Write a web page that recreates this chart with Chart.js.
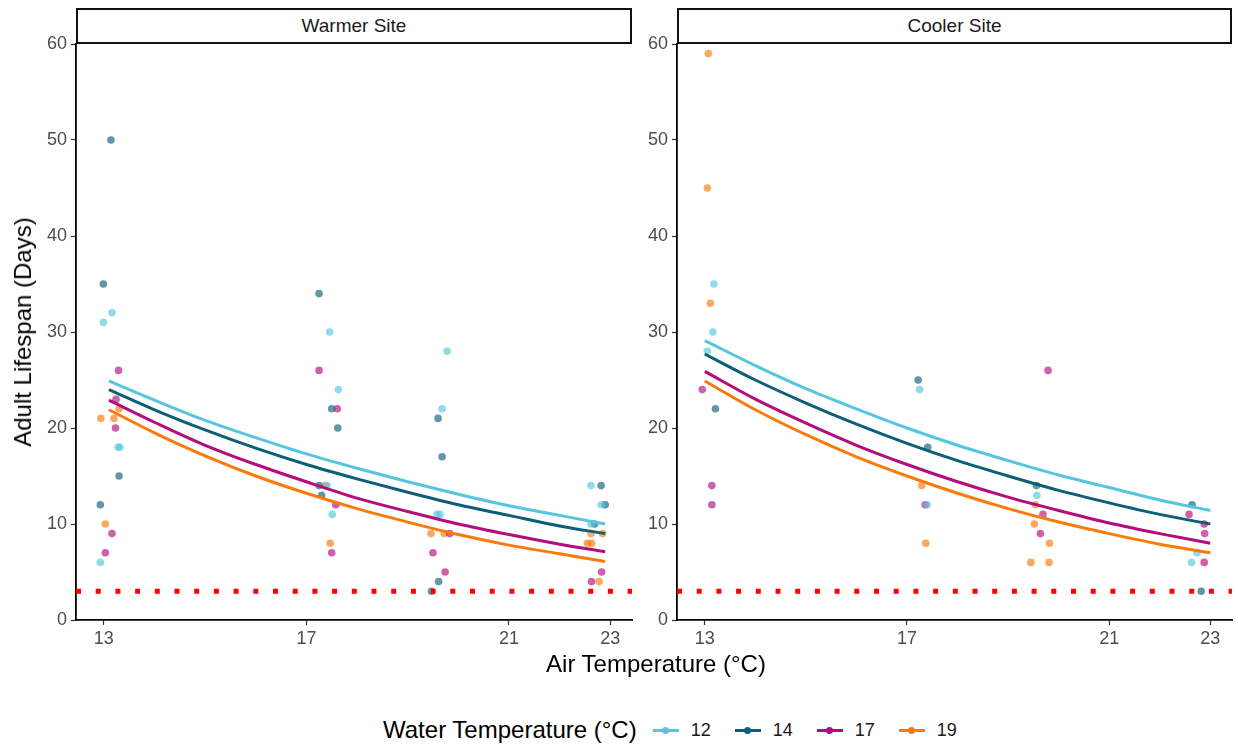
<!DOCTYPE html>
<html>
<head>
<meta charset="utf-8">
<script src="https://cdn.jsdelivr.net/npm/chart.js@4.4.1/dist/chart.umd.min.js"></script>
<style>
body { margin: 0; background: #fff; font-family: "Liberation Sans", Arial, sans-serif; }
#wrap { position: relative; width: 1238px; height: 747px; overflow: hidden; background: #fff; }
canvas { position: absolute; top: 0; }
.strip { position: absolute; top: 8px; height: 36px; box-sizing: border-box; border: 2px solid #111;
  display: flex; align-items: center; justify-content: center; font-size: 19px; color: #1a1a1a; background: #fff; }
.ytitle { position: absolute; left: 23px; top: 332px; transform: translate(-50%, -50%) rotate(-90deg);
  font-size: 24px; white-space: nowrap; color: #000; }
.xtitle { position: absolute; left: 656px; top: 664px; transform: translate(-50%, -50%); font-size: 24px; color: #000; white-space: nowrap; }
#legend { position: absolute; left: 383px; top: 716px; height: 28px; display: flex; align-items: center; font-size: 18px; color: #1a1a1a; }
#legend .ttl { font-size: 24px; color: #000; margin-right: 16px; }
#legend .key { position: relative; width: 26px; height: 12px; margin-right: 12px; }
#legend .key .ln { position: absolute; left: 0; right: 0; top: 4.5px; height: 3px; }
#legend .key .pt { position: absolute; left: 9px; top: 2.5px; width: 7px; height: 7px; border-radius: 50%; }
#legend .lab { margin-right: 24px; }
</style>
</head>
<body>
<div id="wrap">
  <canvas id="warm" width="640" height="660" style="left:0"></canvas>
  <canvas id="cool" width="598" height="660" style="left:640px"></canvas>
  <div class="strip" style="left:76px;width:556px">Warmer Site</div>
  <div class="strip" style="left:677px;width:555px">Cooler Site</div>
  <div class="ytitle">Adult Lifespan (Days)</div>
  <div class="xtitle">Air Temperature (°C)</div>
  <div id="legend"></div>
</div>
<script>
// water temperature groups and colours
var waterTemps = ['12', '14', '17', '19'];
var colors = ['#55C6DD', '#0D5F77', '#B30C7D', '#FA7A0A'];
var airTicks = [13, 17, 21, 23];
var threshold = 3;

// observed points [air temp (jittered), lifespan]
var warmer12 = [[12.99,31],[13.16,32],[13.28,18],[13.32,18],[12.93,6],[17.46,30],[17.63,24],[17.41,14],[17.51,11],
  [19.78,28],[19.68,22],[19.58,11],[19.64,11],[22.62,14],[22.82,12],[22.62,10]];
var warmer14 = [[13.14,50],[12.99,35],[13.3,15],[12.93,12],[17.25,34],[17.5,22],[17.62,20],[17.25,14],[17.3,13],
  [19.6,21],[19.68,17],[19.61,4],[19.47,3],[22.82,14],[22.9,12],[22.69,10]];
var warmer17 = [[13.29,26],[13.24,23],[13.23,20],[13.16,9],[13.03,7],[17.25,26],[17.61,22],[17.58,12],[17.5,7],
  [19.83,9],[19.5,7],[19.74,5],[22.83,5],[22.63,4]];
var warmer19 = [[13.3,22],[12.94,21],[13.2,21],[13.03,10],[17.37,14],[17.47,8],[19.46,9],[19.72,9],
  [22.62,9],[22.85,9],[22.55,8],[22.63,8],[22.78,4]];

var cooler12 = [[13.18,35],[13.16,30],[13.05,28],[17.25,24],[17.4,12],[19.57,13],[22.74,7],[22.63,6]];
var cooler14 = [[13.21,22],[17.22,25],[17.41,18],[19.56,14],[22.64,12],[22.82,3]];
var cooler17 = [[12.95,24],[13.14,14],[13.14,12],[17.36,12],[19.79,26],[19.69,11],[19.64,9],
  [22.58,11],[22.88,10],[22.89,9],[22.88,6]];
var cooler19 = [[13.07,59],[13.05,45],[13.11,33],[17.29,14],[17.37,8],[19.54,12],[19.52,10],[19.82,8],[19.45,6],[19.81,6]];

// fitted curves
var warmerFitTemps = [13.1, 14, 15, 16, 17, 18, 19, 20, 21, 22, 22.9];
var warmerFit12 = [24.9, 22.9, 20.8, 19.0, 17.3, 15.8, 14.4, 13.1, 11.9, 10.9, 10.0];
var warmerFit14 = [24.0, 21.9, 19.8, 17.9, 16.2, 14.7, 13.3, 12.0, 10.9, 9.8, 9.0];
var warmerFit17 = [22.9, 20.6, 18.2, 16.2, 14.4, 12.7, 11.3, 10.0, 8.9, 7.9, 7.1];
var warmerFit19 = [21.9, 19.5, 17.1, 15.0, 13.2, 11.6, 10.2, 8.9, 7.8, 6.9, 6.1];

var coolerFitTemps = [13, 14, 15, 16, 17, 18, 19, 20, 21, 22, 23];
var coolerFit12 = [29.1, 26.5, 24.1, 22.0, 20.0, 18.2, 16.6, 15.1, 13.8, 12.5, 11.4];
var coolerFit14 = [27.7, 25.0, 22.6, 20.4, 18.4, 16.6, 15.0, 13.5, 12.2, 11.0, 10.0];
var coolerFit17 = [25.9, 23.0, 20.5, 18.2, 16.2, 14.4, 12.8, 11.4, 10.1, 9.0, 8.0];
var coolerFit19 = [24.9, 21.9, 19.3, 17.0, 15.0, 13.2, 11.6, 10.2, 9.0, 7.9, 7.0];

var fam = '"Liberation Sans", Arial, sans-serif';
var xMin = 12.45, xMax = 23.43;

function alpha(hex, a) {
    var r = parseInt(hex.substr(1, 2), 16), g = parseInt(hex.substr(3, 2), 16), b = parseInt(hex.substr(5, 2), 16);
    return 'rgba(' + r + ',' + g + ',' + b + ',' + a + ')';
}

function makePanel(id, pts, fitTemps, fits, yWidth, padRight) {
    var datasets = [];
    for (var i = 0; i < fits.length; i++) {
        datasets.push({
            data: fitTemps.map(function (t, k) { return { x: t, y: fits[i][k] }; }),
            showLine: true, borderColor: colors[i], borderWidth: 3, pointRadius: 0,
            cubicInterpolationMode: 'monotone', order: 0
        });
    }
    datasets.push({
        data: [{ x: xMin, y: threshold }, { x: xMax, y: threshold }],
        showLine: true, borderColor: '#FF0000', borderWidth: 5, borderDash: [5, 14.7],
        borderCapStyle: 'butt', pointRadius: 0, order: 1
    });
    for (var i = 0; i < pts.length; i++) {
        datasets.push({
            data: pts[i].map(function (p) { return { x: p[0], y: p[1] }; }),
            showLine: false, pointRadius: 3.8, borderWidth: 0,
            backgroundColor: alpha(colors[i], 0.65), order: 2
        });
    }
    var ctx = document.getElementById(id).getContext('2d');
    return new Chart(ctx, {
        type: 'scatter',
        data: { datasets: datasets },
        options: {
            responsive: false,
            animation: false,
            layout: { padding: { top: 44, right: padRight, left: 0, bottom: 0 } },
            plugins: { legend: { display: false }, tooltip: { enabled: false } },
            scales: {
                x: {
                    type: 'linear', min: xMin, max: xMax,
                    afterBuildTicks: function (s) { s.ticks = airTicks.map(function (v) { return { value: v }; }); },
                    afterFit: function (s) { s.height = 40; },
                    grid: { drawOnChartArea: false, tickLength: 5, color: '#333', tickWidth: 1.2 },
                    border: { display: true, color: '#000', width: 1.8 },
                    ticks: { font: { size: 18, family: fam }, color: '#4d4d4d', padding: 3, maxRotation: 0, autoSkip: false }
                },
                y: {
                    min: 0, max: 60,
                    afterFit: function (s) { s.width = yWidth; },
                    grid: { drawOnChartArea: false, tickLength: 5, color: '#333', tickWidth: 1.2 },
                    border: { display: true, color: '#000', width: 1.8 },
                    ticks: { stepSize: 10, font: { size: 18, family: fam }, color: '#4d4d4d', padding: 4 }
                }
            }
        }
    });
}

makePanel('warm', [warmer12, warmer14, warmer17, warmer19], warmerFitTemps,
    [warmerFit12, warmerFit14, warmerFit17, warmerFit19], 76, 8);
makePanel('cool', [cooler12, cooler14, cooler17, cooler19], coolerFitTemps,
    [coolerFit12, coolerFit14, coolerFit17, coolerFit19], 37, 6);

// legend
var legend = document.getElementById('legend');
var html = '<span class="ttl">Water Temperature (°C)</span>';
for (var i = 0; i < waterTemps.length; i++) {
    html += '<span class="key"><span class="ln" style="background:' + colors[i] + '"></span>' +
        '<span class="pt" style="background:' + colors[i] + '"></span></span>' +
        '<span class="lab">' + waterTemps[i] + '</span>';
}
legend.innerHTML = html;
</script>
</body>
</html>
